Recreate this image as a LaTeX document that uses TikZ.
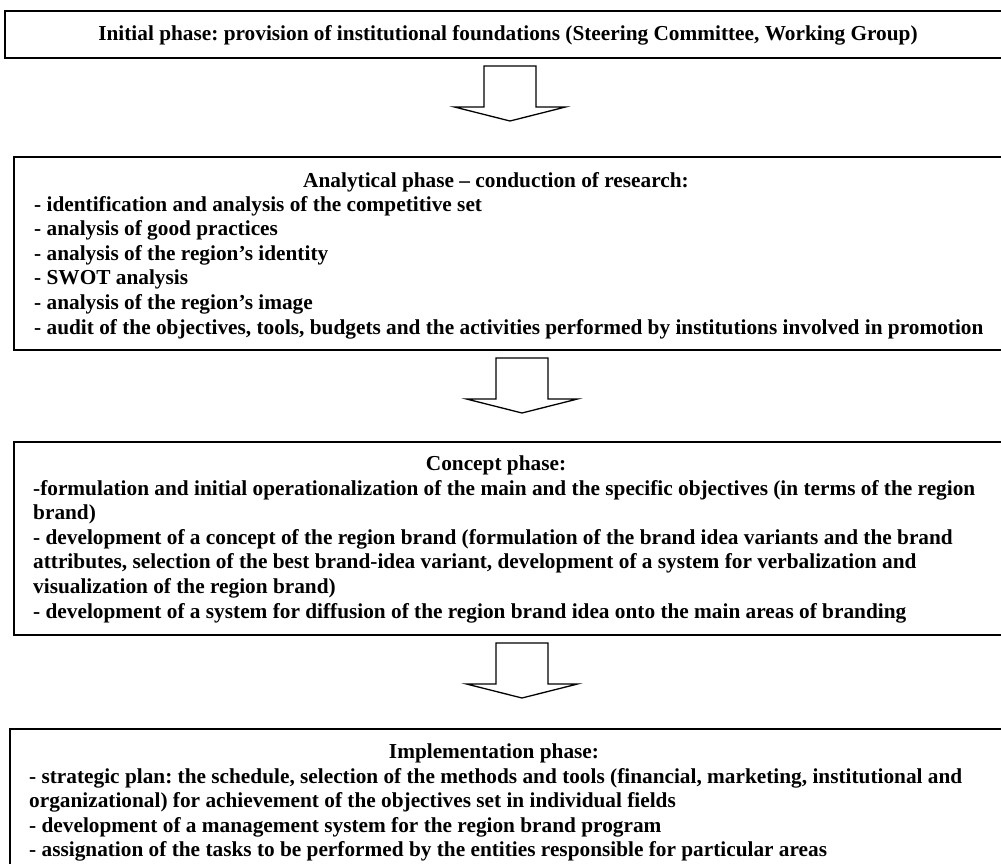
\documentclass[tikz,border=0pt]{standalone}
\usepackage{fontspec}
\setmainfont{Liberation Serif}
\begin{document}
\frenchspacing
\begin{tikzpicture}[x=1pt,y=-1pt,
  box/.style={draw=black, line width=1.8pt, rectangle, anchor=north west, inner sep=0pt},
  head/.style={inner sep=0pt, anchor=base, font=\fontsize{21.3}{24.6}\selectfont\bfseries},
  body/.style={inner sep=0pt, anchor=base west, font=\fontsize{21.3}{24.6}\selectfont\bfseries},
  blockarrow/.pic={\draw[line width=1.3pt, line join=miter, fill=white]
     (-26,0) -- (26,0) -- (26,41) -- (55.5,41) -- (0,55) -- (-55.5,41) -- (-26,41) -- cycle;}]
\clip (0,0) rectangle (1001,863);
\fill[white] (0,0) rectangle (1001,863);
% boxes
\node[box, minimum width=1008pt, minimum height=47pt] (b1) at (4,10) {};
\node[box, minimum width=1002pt, minimum height=193pt] (b2) at (13,156) {};
\node[box, minimum width=1002pt, minimum height=193pt] (b3) at (13,441) {};
\node[box, minimum width=1006pt, minimum height=160pt] (b4) at (9,728) {};
% block arrows between the boxes
\coordinate (a1) at (510,66);
\coordinate (a2) at (522,358);
\coordinate (a3) at (522,643);
\pic at (a1) {blockarrow};
\pic at (a2) {blockarrow};
\pic at (a3) {blockarrow};
% texts
\node[head] (t1) at (508,40) {Initial phase: provision of institutional foundations (Steering Committee, Working Group)};
\node[head] (h2) at (496,187) {Analytical phase – conduction of research:};
\node[body] (l2) at (34,211) {\parbox[t]{1000pt}{\raggedright
- identification and analysis of the competitive set\\
- analysis of good practices\\
- analysis of the region’s identity\\
- SWOT analysis\\
- analysis of the region’s image\\
- audit of the objectives, tools, budgets and the activities performed by institutions involved in promotion}};
\node[head] (h3) at (496,470) {Concept phase:};
\node[body] (l3) at (33,495) {\parbox[t]{1000pt}{\raggedright
-formulation and initial operationalization of the main and the specific objectives (in terms of the region\\
brand)\\
- development of a concept of the region brand (formulation of the brand idea variants and the brand\\
attributes, selection of the best brand-idea variant, development of a system for verbalization and\\
visualization of the region brand)\\
- development of a system for diffusion of the region brand idea onto the main areas of branding}};
\node[head] (h4) at (494,758) {Implementation phase:};
\node[body] (l4) at (29,783) {\parbox[t]{1000pt}{\raggedright
- strategic plan: the schedule, selection of the methods and tools (financial, marketing, institutional and\\
organizational) for achievement of the objectives set in individual fields\\
- development of a management system for the region brand program\\
- assignation of the tasks to be performed by the entities responsible for particular areas}};
\end{tikzpicture}
\end{document}
